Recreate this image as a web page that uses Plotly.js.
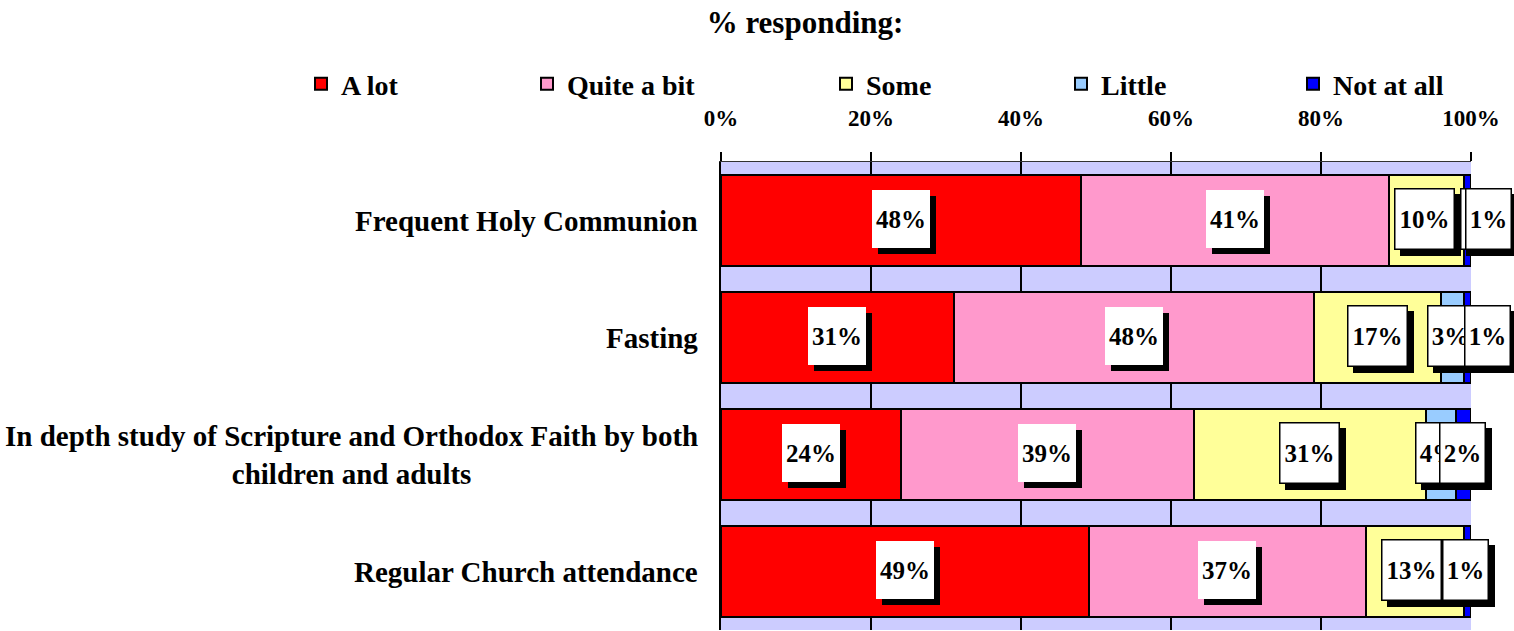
<!DOCTYPE html>
<html>
<head>
<meta charset="utf-8">
<script src="https://cdn.plot.ly/plotly-3.0.1.min.js"></script>
<style>
  html, body { margin: 0; padding: 0; background: #ffffff; }
  #chart { width: 1514px; height: 631px; }
</style>
</head>
<body>
<div id="chart"></div>
<script>
// ---- data ----
const categories = [
  'Frequent Holy Communion',
  'Fasting',
  'In depth study of Scripture and Orthodox Faith by both children and adults',
  'Regular Church attendance'
];
const categoryLabels = [
  'Frequent Holy Communion',
  'Fasting',
  'In depth study of Scripture and Orthodox Faith by both<br>children and adults',
  'Regular Church attendance'
];
const seriesNames = ['A lot', 'Quite a bit', 'Some', 'Little', 'Not at all'];
const aLot      = [48, 31, 24, 49];
const quiteABit = [41, 48, 39, 37];
const some      = [10, 17, 31, 13];
const little    = [0, 3, 4, null];
const notAtAll  = [1, 1, 2, 1];
const xTickVals = [0, 20, 40, 60, 80, 100];
const xTickText = ['0%', '20%', '40%', '60%', '80%', '100%'];
const chartTitle = '% responding:';

// ---- styling ----
const seriesValues = [aLot, quiteABit, some, little, notAtAll];
const seriesColors = ['#FF0000', '#FF99CC', '#FFFF99', '#99CCFF', '#0000FF'];
const labelBordered = [false, false, true, true, true];
// pixel nudges for labels Excel moved by hand: [series][row]
const labelNudgeX = [[0,0,0,0],[0,0,0,0],[-2,0,0,-3],[20,-2,-3,0],[21,20,-1,-2]];
const legendTextStart = [341, 567, 866, 1101, 1333];
const FONT = 'Liberation Serif';
const W = 1514, H = 631;

const traces = seriesValues.map((vals, i) => ({
  type: 'bar',
  orientation: 'h',
  name: seriesNames[i],
  y: categories,
  x: vals,
  marker: { color: seriesColors[i], line: { color: '#000000', width: 2 } },
  hoverinfo: 'skip',
  legend: i === 0 ? 'legend' : 'legend' + (i + 1)
}));

const annotations = [];
// category labels (centered multi-line, right aligned block)
categories.forEach((c, r) => {
  annotations.push({
    xref: 'paper', yref: 'y', x: 0, y: c,
    xanchor: 'right', yanchor: 'middle', xshift: -21, align: 'center',
    showarrow: false, text: categoryLabels[r],
    font: { family: FONT, size: 29, weight: 'bold', color: '#000000' }
  });
});

// value labels with drop shadows
categories.forEach((c, r) => {
  let cum = 0;
  seriesValues.forEach((vals, s) => {
    const v = vals[r];
    if (v === null || v === undefined) return;
    const center = cum + v / 2;
    cum += v;
    const txt = v + '%';
    const bordered = labelBordered[s];
    const boxW = txt.length >= 3 ? (bordered ? 61 : 58) : 47;
    const boxH = bordered ? 62 : 58;
    const bw = bordered ? 1.5 : 0;
    const nud = labelNudgeX[s][r];
    // shadow
    annotations.push({
      xref: 'x', yref: 'y', x: center, y: c, xanchor: 'center', yanchor: 'middle',
      xshift: nud + 6, yshift: -4, showarrow: false, text: '\u00a0',
      width: boxW - 2 * bw, height: boxH - 2 * bw, borderpad: 0, borderwidth: bw,
      bgcolor: '#000000', bordercolor: '#000000',
      font: { family: FONT, size: 25, weight: 'bold', color: '#000000' }
    });
    // box
    annotations.push({
      xref: 'x', yref: 'y', x: center, y: c, xanchor: 'center', yanchor: 'middle',
      xshift: nud, yshift: 2, showarrow: false, text: txt,
      width: boxW - 2 * bw, height: boxH - 2 * bw, borderpad: 0, borderwidth: bw,
      bgcolor: '#FFFFFF', bordercolor: '#000000',
      font: { family: FONT, size: 25, weight: 'bold', color: '#000000' }
    });
  });
});

const layout = {
  width: W, height: H,
  margin: { l: 721, r: 43, t: 162, b: 1, pad: 0 },
  paper_bgcolor: '#FFFFFF',
  plot_bgcolor: '#CCCCFF',
  font: { family: FONT, weight: 'bold', color: '#000000', size: 23 },
  barmode: 'stack',
  bargap: 0.23,
  title: {
    text: chartTitle,
    xref: 'container', yref: 'container',
    x: 805 / W, xanchor: 'center', y: 1 - 22 / H, yanchor: 'middle',
    font: { family: FONT, size: 31, weight: 'bold', color: '#000000' }
  },
  xaxis: {
    side: 'top', range: [0, 100], fixedrange: true,
    tickvals: xTickVals, ticktext: xTickText,
    showgrid: true, gridcolor: '#000000', gridwidth: 2,
    zeroline: false,
    showline: true, linecolor: '#333333', linewidth: 1,
    ticks: 'outside', ticklen: 9, tickwidth: 2, tickcolor: '#000000',
    ticklabelstandoff: 17,
    tickfont: { family: FONT, size: 23, weight: 'bold', color: '#000000' }
  },
  yaxis: {
    type: 'category', categoryorder: 'array', categoryarray: categories,
    autorange: 'reversed', fixedrange: true,
    showticklabels: false, ticks: '', showgrid: false, zeroline: false,
    showline: true, linecolor: '#000000', linewidth: 2
  },
  annotations: annotations,
  showlegend: true
};

seriesNames.forEach((n, i) => {
  const key = i === 0 ? 'legend' : 'legend' + (i + 1);
  layout[key] = {
    xref: 'container', yref: 'container',
    x: (legendTextStart[i] - 40) / W, xanchor: 'left',
    y: 1 - 84 / H, yanchor: 'middle',
    orientation: 'h', bgcolor: 'rgba(0,0,0,0)', borderwidth: 0,
    font: { family: FONT, size: 28, weight: 'bold', color: '#000000' },
    itemclick: false, itemdoubleclick: false
  };
});

Plotly.newPlot('chart', traces, layout, { displayModeBar: false, staticPlot: true });
</script>
</body>
</html>
